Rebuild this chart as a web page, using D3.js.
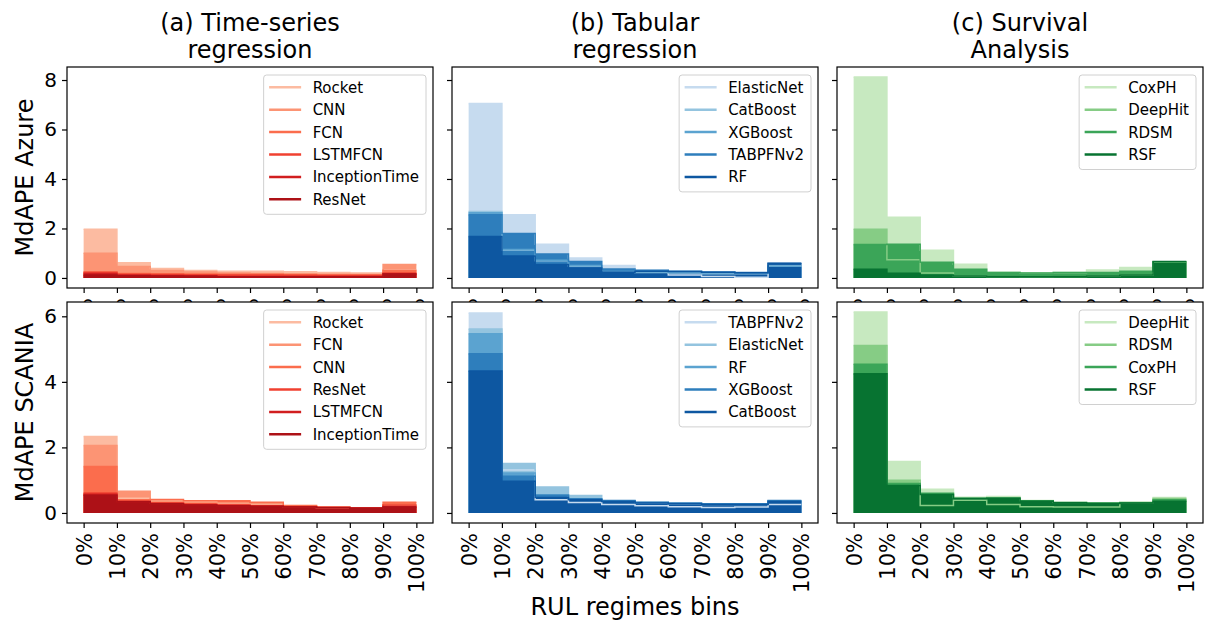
<!DOCTYPE html>
<html>
<head>
<meta charset="utf-8">
<script src="https://cdn.jsdelivr.net/npm/d3@7"></script>
<style>
  body { margin: 0; background: #fff; }
  text { font-family: "DejaVu Sans", sans-serif; fill: #000; }
</style>
</head>
<body>
<svg id="chart" width="1205" height="626"></svg>
<script>
// RUL regime bin edges (percent of remaining useful life) and their tick labels
const binEdges = [0, 10, 20, 30, 40, 50, 60, 70, 80, 90, 100];
const binTickLabels = ["0%", "10%", "20%", "30%", "40%", "50%", "60%", "70%", "80%", "90%", "100%"];
const azureTicks = [0, 2, 4, 6, 8];
const scaniaTicks = [0, 2, 4, 6];

const columnTitles = [["(a) Time-series", "regression"], ["(b) Tabular", "regression"], ["(c) Survival", "Analysis"]];
const rowLabels = ["MdAPE Azure", "MdAPE SCANIA"];
const xAxisLabel = "RUL regimes bins";

// Azure: MdAPE per RUL bin
const tsAzureModels = ["Rocket", "CNN", "FCN", "LSTMFCN", "InceptionTime", "ResNet"];
const tsAzureMdape = [
  [1.97, 0.61, 0.38, 0.30, 0.27, 0.27, 0.25, 0.22, 0.20, 0.32],
  [1.00, 0.46, 0.30, 0.24, 0.20, 0.18, 0.17, 0.15, 0.14, 0.54],
  [0.25, 0.18, 0.17, 0.16, 0.15, 0.15, 0.13, 0.12, 0.12, 0.30],
  [0.22, 0.15, 0.14, 0.13, 0.12, 0.12, 0.11, 0.10, 0.10, 0.20],
  [0.18, 0.12, 0.10, 0.09, 0.06, 0.06, 0.06, 0.06, 0.06, 0.17],
  [0.12, 0.09, 0.08, 0.07, 0.05, 0.05, 0.05, 0.05, 0.05, 0.16]
];

const tabAzureModels = ["ElasticNet", "CatBoost", "XGBoost", "TABPFNv2", "RF"];
const tabAzureMdape = [
  [7.05, 2.55, 1.36, 0.81, 0.50, 0.31, 0.12, 0.06, 0.03, 0.47],
  [2.69, 1.13, 0.70, 0.48, 0.24, 0.22, 0.20, 0.17, 0.17, 0.47],
  [2.64, 1.15, 0.72, 0.50, 0.26, 0.24, 0.22, 0.20, 0.19, 0.47],
  [2.55, 1.80, 0.97, 0.66, 0.36, 0.31, 0.27, 0.24, 0.22, 0.58],
  [1.68, 0.89, 0.54, 0.40, 0.23, 0.27, 0.26, 0.23, 0.21, 0.59]
];

const survAzureModels = ["CoxPH", "DeepHit", "RDSM", "RSF"];
const survAzureMdape = [
  [8.12, 2.45, 1.12, 0.55, 0.23, 0.21, 0.22, 0.32, 0.42, 0.64],
  [1.97, 0.74, 0.20, 0.08, 0.06, 0.05, 0.06, 0.08, 0.12, 0.64],
  [1.35, 1.36, 0.63, 0.35, 0.22, 0.20, 0.22, 0.22, 0.27, 0.64],
  [0.35, 0.19, 0.12, 0.08, 0.06, 0.05, 0.06, 0.08, 0.12, 0.66]
];

// SCANIA: MdAPE per RUL bin
const tsScaniaModels = ["Rocket", "FCN", "CNN", "ResNet", "LSTMFCN", "InceptionTime"];
const tsScaniaMdape = [
  [2.33, 0.45, 0.38, 0.34, 0.29, 0.25, 0.21, 0.17, 0.14, 0.22],
  [2.06, 0.66, 0.36, 0.32, 0.30, 0.28, 0.20, 0.16, 0.14, 0.25],
  [1.42, 0.40, 0.41, 0.37, 0.37, 0.33, 0.23, 0.18, 0.15, 0.33],
  [0.61, 0.36, 0.30, 0.27, 0.24, 0.22, 0.19, 0.17, 0.15, 0.24],
  [0.57, 0.35, 0.29, 0.25, 0.23, 0.21, 0.19, 0.17, 0.15, 0.20],
  [0.54, 0.34, 0.28, 0.24, 0.22, 0.20, 0.18, 0.16, 0.14, 0.18]
];

const tabScaniaModels = ["TABPFNv2", "ElasticNet", "RF", "XGBoost", "CatBoost"];
const tabScaniaMdape = [
  [6.10, 1.31, 0.40, 0.32, 0.26, 0.22, 0.19, 0.17, 0.18, 0.26],
  [5.61, 1.51, 0.79, 0.53, 0.36, 0.30, 0.28, 0.26, 0.26, 0.36],
  [5.47, 1.22, 0.55, 0.42, 0.37, 0.32, 0.29, 0.27, 0.27, 0.37],
  [4.86, 1.12, 0.54, 0.43, 0.38, 0.33, 0.30, 0.28, 0.28, 0.38],
  [4.33, 0.97, 0.47, 0.40, 0.35, 0.30, 0.28, 0.26, 0.26, 0.35]
];

const survScaniaModels = ["DeepHit", "RDSM", "CoxPH", "RSF"];
const survScaniaMdape = [
  [6.13, 1.57, 0.72, 0.48, 0.50, 0.38, 0.33, 0.31, 0.33, 0.47],
  [5.11, 1.00, 0.23, 0.39, 0.26, 0.19, 0.18, 0.18, 0.32, 0.44],
  [4.54, 0.90, 0.60, 0.45, 0.46, 0.37, 0.32, 0.30, 0.31, 0.40],
  [4.25, 0.84, 0.56, 0.44, 0.45, 0.36, 0.31, 0.29, 0.30, 0.36]
];

// Sequential colour ramps (ColorBrewer nodes)
const reds = d3.piecewise(d3.interpolateRgb, ["#fff5f0", "#fee0d2", "#fcbba1", "#fc9272", "#fb6a4a", "#ef3b2c", "#cb181d", "#a50f15", "#67000d"]);
const blues = d3.piecewise(d3.interpolateRgb, ["#f7fbff", "#deebf7", "#c6dbef", "#9ecae1", "#6baed6", "#4292c6", "#2171b5", "#08519c", "#08306b"]);
const greens = d3.piecewise(d3.interpolateRgb, ["#f7fcf5", "#e5f5e0", "#c7e9c0", "#a1d99b", "#74c476", "#41ab5d", "#238b45", "#006d2c", "#00441b"]);

const rows = [
  { label: rowLabels[0], ticks: azureTicks, panels: [
    { models: tsAzureModels, values: tsAzureMdape, ramp: reds },
    { models: tabAzureModels, values: tabAzureMdape, ramp: blues },
    { models: survAzureModels, values: survAzureMdape, ramp: greens } ] },
  { label: rowLabels[1], ticks: scaniaTicks, panels: [
    { models: tsScaniaModels, values: tsScaniaMdape, ramp: reds },
    { models: tabScaniaModels, values: tabScaniaMdape, ramp: blues },
    { models: survScaniaModels, values: survScaniaMdape, ramp: greens } ] }
];

// Layout
const colLeft = [67, 452, 837];
const rowTop = [67, 302];
const panelW = 366, panelH = 221;
const tickLen = 5, spineW = 1.2;

const svg = d3.select("#chart");
svg.append("rect").attr("width", 1205).attr("height", 626).attr("fill", "#fff");

// Column titles
columnTitles.forEach((lines, c) => {
  const cx = colLeft[c] + panelW / 2;
  lines.forEach((ln, k) => {
    svg.append("text").attr("x", cx).attr("y", 31 + k * 27)
      .attr("text-anchor", "middle").style("font-size", "24px").text(ln);
  });
});

const x = d3.scaleLinear().domain([-5, 105]);

rows.forEach((row, r) => {
  const top = rowTop[r], bottom = top + panelH;
  const rowMax = d3.max(row.panels, p => d3.max(p.values, s => d3.max(s)));
  const y = d3.scaleLinear().domain([-0.05 * rowMax, 1.05 * rowMax]).range([bottom, top]);

  // Row label
  svg.append("text")
    .attr("transform", `translate(33,${top + panelH / 2}) rotate(-90)`)
    .attr("text-anchor", "middle").style("font-size", "24px").text(row.label);

  row.panels.forEach((p, c) => {
    const left = colLeft[c];
    const xs = x.copy().range([left, left + panelW]);
    const g = svg.append("g");

    g.append("rect").attr("x", left).attr("y", top).attr("width", panelW).attr("height", panelH).attr("fill", "#fff");

    const n = p.models.length;
    const color = i => p.ramp(0.25 + i * 0.6 / (n - 1));

    // step points: each bin value held from its left edge, closed at 100%
    const stepPts = vals => binEdges.map((e, i) => [e, vals[Math.min(i, vals.length - 1)]]);
    const area = d3.area().curve(d3.curveStepAfter).x(d => xs(d[0])).y0(y(0)).y1(d => y(d[1]));
    const line = d3.line().curve(d3.curveStepAfter).x(d => xs(d[0])).y(d => y(d[1]));

    const clipId = `clip-${r}-${c}`;
    g.append("clipPath").attr("id", clipId).append("rect")
      .attr("x", left).attr("y", top).attr("width", panelW).attr("height", panelH);
    const marks = g.append("g").attr("clip-path", `url(#${clipId})`);

    p.values.forEach((vals, i) => {
      marks.append("path").attr("d", area(stepPts(vals))).attr("fill", color(i));
    });
    p.values.forEach((vals, i) => {
      marks.append("path").attr("d", line(stepPts(vals))).attr("fill", "none")
        .attr("stroke", color(i)).attr("stroke-width", 1.5);
    });

    // x axis
    const xAxis = g.append("g").attr("transform", `translate(0,${bottom})`)
      .call(d3.axisBottom(xs).tickValues(binEdges).tickFormat((d, i) => binTickLabels[i]).tickSizeOuter(0).tickSize(tickLen));
    xAxis.select(".domain").remove();
    xAxis.selectAll(".tick line").attr("stroke", "#000").attr("stroke-width", spineW);
    xAxis.selectAll(".tick text")
      .attr("transform", "rotate(-90)").attr("x", -(tickLen + 5)).attr("y", 0).attr("dy", "0.36em")
      .attr("text-anchor", "end").style("font-size", "21px")
      .style("font-family", "'DejaVu Sans', sans-serif").attr("fill", "#000");

    // y axis
    const yAxis = g.append("g").attr("transform", `translate(${left},0)`)
      .call(d3.axisLeft(y).tickValues(row.ticks).tickFormat(d3.format("d"))
        .tickSizeOuter(0).tickSize(tickLen).tickPadding(5));
    yAxis.select(".domain").remove();
    yAxis.selectAll(".tick line").attr("stroke", "#000").attr("stroke-width", spineW);
    if (c === 0) {
      yAxis.selectAll(".tick text").style("font-size", "20px")
        .style("font-family", "'DejaVu Sans', sans-serif").attr("fill", "#000");
    } else {
      yAxis.selectAll(".tick text").remove();
    }

    // spines
    g.append("rect").attr("x", left).attr("y", top).attr("width", panelW).attr("height", panelH)
      .attr("fill", "none").attr("stroke", "#000").attr("stroke-width", spineW);

    // legend
    const lg = g.append("g");
    const frame = lg.append("rect");
    const rowGap = 22.4, firstRow = 12.3;
    const labels = p.models.map((m, i) => lg.append("text")
      .attr("y", top + 8 + firstRow + i * rowGap).attr("dy", "0.36em")
      .style("font-size", "15px").text(m));
    const textW = d3.max(labels, t => t.node().getComputedTextLength());
    const right = left + panelW - 7;
    const lLeft = right - (49 + textW + 7);
    const lTop = top + 8;
    const lH = firstRow + (n - 1) * rowGap + 15;
    frame.attr("x", lLeft).attr("y", lTop).attr("width", right - lLeft).attr("height", lH)
      .attr("rx", 3).attr("fill", "#fff").attr("fill-opacity", 0.8)
      .attr("stroke", "#d0d0d0").attr("stroke-width", 1);
    labels.forEach(t => t.attr("x", lLeft + 49));
    p.models.forEach((m, i) => {
      const yy = lTop + firstRow + i * rowGap;
      lg.append("line").attr("x1", lLeft + 5.5).attr("x2", lLeft + 37.5).attr("y1", yy).attr("y2", yy)
        .attr("stroke", color(i)).attr("stroke-width", 2.5);
    });
  });
});

// Shared x label
svg.append("text").attr("x", colLeft[0] + (colLeft[2] + panelW - colLeft[0]) / 2).attr("y", 615)
  .attr("text-anchor", "middle").style("font-size", "24px").text(xAxisLabel);
</script>
</body>
</html>
